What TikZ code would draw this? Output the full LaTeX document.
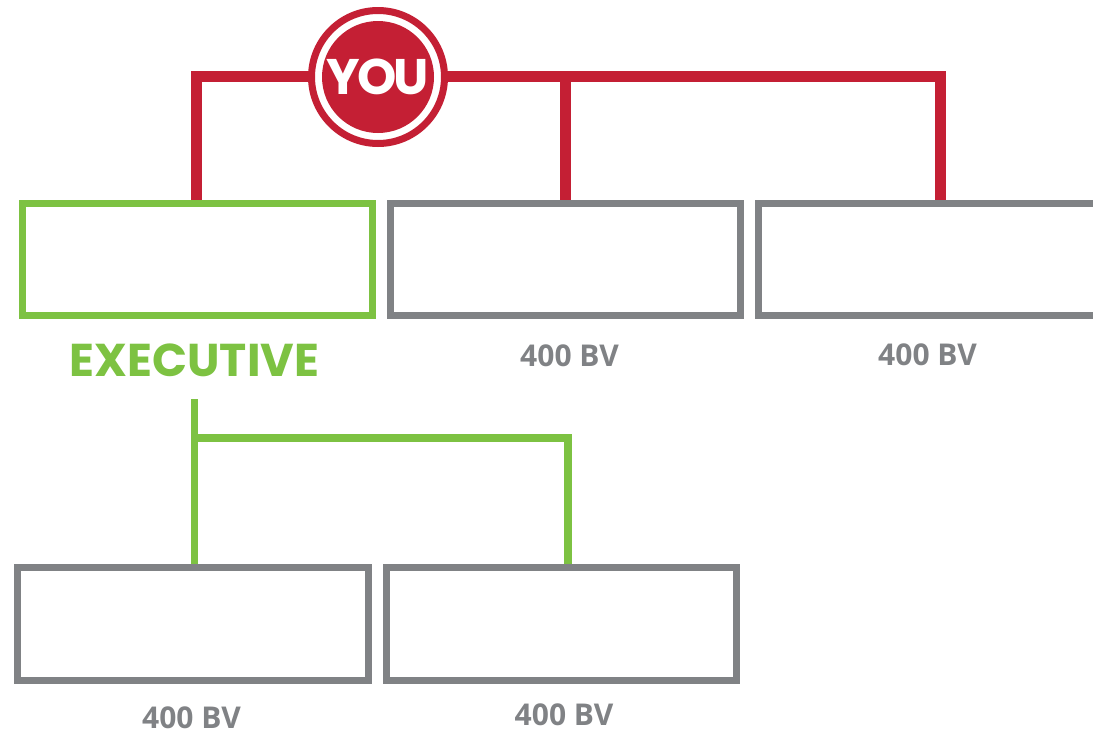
\documentclass[tikz,border=0pt]{standalone}
\usepackage{fontspec}
\setmainfont{Open Sans}
\newfontfamily\geofont{Poppins}
\definecolor{youred}{HTML}{C41F34}
\definecolor{exgreen}{HTML}{7DC242}
\definecolor{boxgray}{HTML}{808285}
\begin{document}
\begin{tikzpicture}[x=1pt,y=-1pt,
  box/.style={draw=boxgray,line width=7pt,minimum width=350pt,minimum height=112pt,inner sep=0pt,outer sep=0pt},
  exbox/.style={box,draw=exgreen},
  bvlabel/.style={text=boxgray,font=\fontsize{30}{30}\selectfont\bfseries,inner sep=0pt,anchor=center},
  redline/.style={draw=youred,line width=11pt,line join=miter},
  greenline/.style={draw=exgreen,line width=7.5pt,line join=miter}]
\useasboundingbox (0,0) rectangle (1093,734);
\clip (0,0) rectangle (1093,734);
% top boxes
\node[exbox] (A) at (197.5,259.5) {};
\node[box] (B) at (565.8,259.5) {};
\node[box] (C) at (933.5,259.5) {};
% bottom boxes
\node[box,minimum height=113pt,minimum width=351pt] (D) at (192.5,624) {};
\node[box,minimum height=113pt] (E) at (561,624) {};
% labels
\node[text=exgreen,font=\geofont\fontsize{46}{46}\selectfont\bfseries,inner sep=0pt] (exlab) at (194.5,360) {EXECUTIVE};
\node[bvlabel] (lb) at (569.5,356) {400 BV};
\node[bvlabel] (lc) at (927.5,355) {400 BV};
\node[bvlabel] (ld) at (191.5,718) {400 BV};
\node[bvlabel] (le) at (564,715) {400 BV};
% red connectors
\coordinate (ra) at (196,200);
\coordinate (rb) at (565,200);
\coordinate (rc) at (940.5,200);
\coordinate (rtop) at (0,76.5);
\draw[redline] (ra) -- (ra |- rtop) -- (rc |- rtop) -- (rc);
\draw[redline] (rb |- rtop) -- (rb);
% YOU circle
\node[circle,fill=white,draw=youred,line width=7pt,minimum size=133pt,inner sep=0pt] (youring) at (378,77) {};
\node[circle,fill=youred,minimum size=112pt,inner sep=0pt,text=white,font=\geofont\fontsize{50}{50}\selectfont\bfseries] (you) at (378,77) {\addfontfeatures{LetterSpace=-6}YOU};
% green connectors
\coordinate (gtop) at (194.5,399);
\coordinate (gd) at (194.5,564);
\coordinate (ge) at (568,564);
\coordinate (gmid) at (0,438);
\draw[greenline] (gtop) -- (gd);
\draw[greenline] (gtop |- gmid) -- (ge |- gmid) -- (ge);
\end{tikzpicture}
\end{document}
